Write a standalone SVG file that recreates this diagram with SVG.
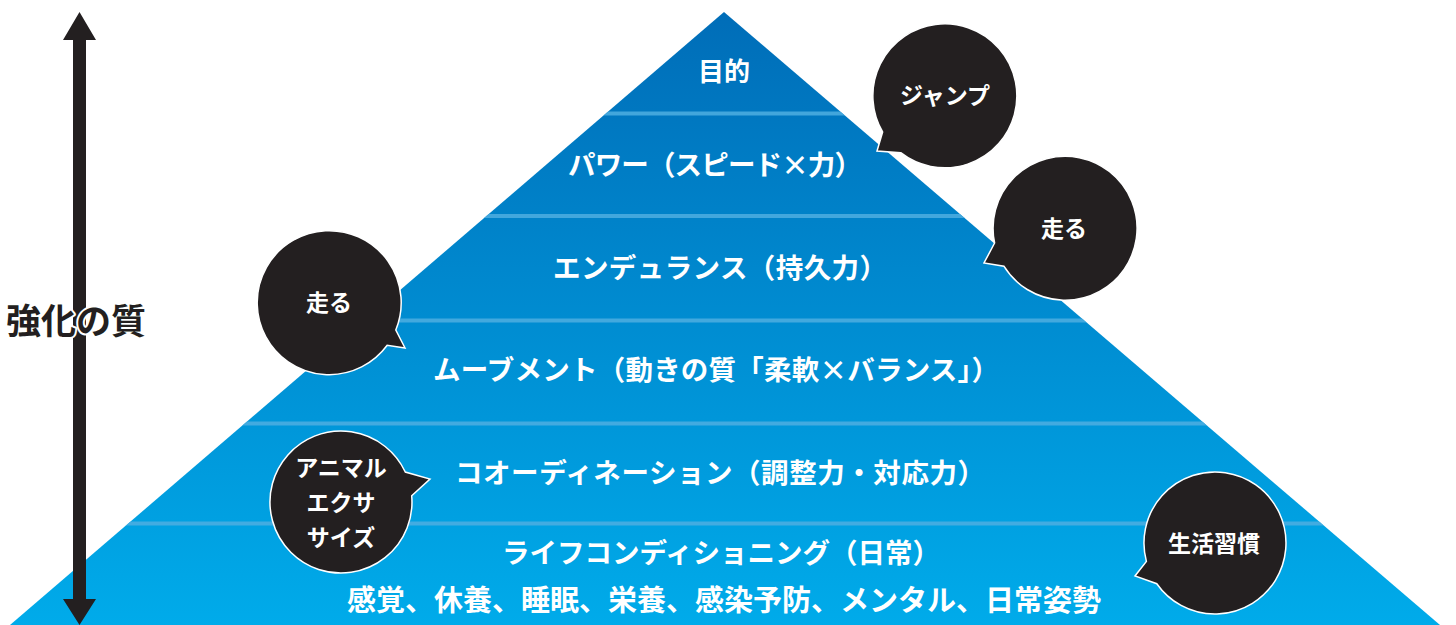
<svg xmlns="http://www.w3.org/2000/svg" width="1456" height="625" viewBox="0 0 1456 625">
<defs>
<linearGradient id="pg" x1="0" y1="12" x2="0" y2="625" gradientUnits="userSpaceOnUse">
<stop offset="0" stop-color="#006DB8"/>
<stop offset="1" stop-color="#00ABEA"/>
</linearGradient>
<clipPath id="tri"><polygon points="724,12 1440,625 10,625"/></clipPath>
<style>
.t{font-family:"Noto Sans CJK JP","Noto Sans",sans-serif;font-weight:700;fill:#fff;text-anchor:middle}
.lv{font-size:27.5px}
.bb{fill:#231F20;stroke:#fff;stroke-width:1.5}
.bt{font-family:"Noto Sans CJK JP","Noto Sans",sans-serif;font-weight:700;fill:#fff;text-anchor:middle;font-size:23px}
.sep{fill:#4DAEE0;opacity:0.85}
</style>
</defs>
<rect width="1456" height="625" fill="#fff"/>
<g id="pyramid">
<polygon points="724,12 1440,625 10,625" fill="url(#pg)"/>
<g clip-path="url(#tri)">
<rect class="sep" x="0" y="111.5" width="1456" height="4"/>
<rect class="sep" x="0" y="214" width="1456" height="4"/>
<rect class="sep" x="0" y="318.5" width="1456" height="4"/>
<rect class="sep" x="0" y="421.5" width="1456" height="4"/>
<rect class="sep" x="0" y="521.5" width="1456" height="4"/>
</g>
</g>
<g id="levels">
<text class="t" x="724" y="81" font-size="26">目的</text>
<text class="t lv" x="715" y="175" textLength="294" lengthAdjust="spacing">パワー（スピード×力）</text>
<text class="t lv" x="720" y="278" textLength="334" lengthAdjust="spacing">エンデュランス（持久力）</text>
<text class="t lv" x="716" y="380" textLength="566" lengthAdjust="spacing">ムーブメント（動きの質「柔軟×バランス」）</text>
<text class="t lv" x="720" y="483" textLength="530" lengthAdjust="spacing">コオーディネーション（調整力・対応力）</text>
<text class="t lv" x="721" y="563" textLength="438" lengthAdjust="spacing">ライフコンディショニング（日常）</text>
<text class="t" x="724" y="611" font-size="29">感覚、休養、睡眠、栄養、感染予防、メンタル、日常姿勢</text>
</g>
<g id="axis">
<polygon points="79.5,12 96,40 86,40 86,599 96,599 79.5,625 63,599 73,599 73,40 63,40" fill="#231F20"/>
<text x="6" y="334" font-family="Noto Sans CJK JP,Noto Sans,sans-serif" font-weight="700" font-size="35" fill="#231F20" stroke="#fff" stroke-width="4" paint-order="stroke" stroke-linejoin="round">強化の質</text>
</g>
<g id="bubble-jump">
<path class="bb" d="M882.6,132 A72,72 0 1 1 900.7,152.7 L877,151 Z"/>
<text class="bt" x="945" y="104">ジャンプ</text>
</g>
<g id="bubble-run-right">
<path class="bb" d="M994.6,243 A72,72 0 1 1 1003.9,266.2 L984,263 Z"/>
<text class="bt" x="1064" y="237">走る</text>
</g>
<g id="bubble-run-left">
<path class="bb" d="M387.2,345.3 A72,72 0 1 1 395.8,330 L405,348 Z"/>
<text class="bt" x="329" y="311">走る</text>
</g>
<g id="bubble-animal">
<path class="bb" d="M411.7,495.8 A71,71 0 1 1 405.3,472 L430,479 Z"/>
<text class="bt" x="341" y="476">アニマル</text>
<text class="bt" x="341" y="511">エクサ</text>
<text class="bt" x="341" y="546">サイズ</text>
</g>
<g id="bubble-habit">
<path class="bb" d="M1146.4,561.4 A71,71 0 1 1 1156.8,583.7 L1135,576 Z"/>
<text class="bt" x="1214" y="552" font-size="25">生活習慣</text>
</g>
</svg>
